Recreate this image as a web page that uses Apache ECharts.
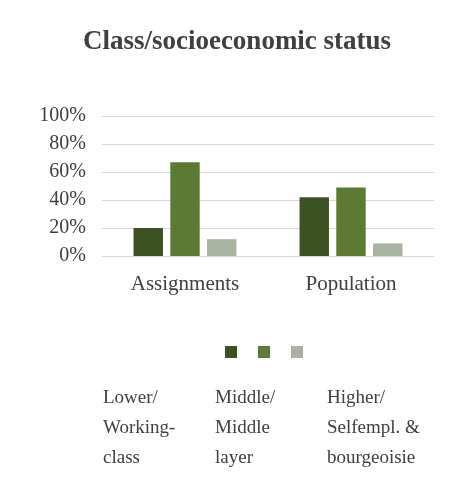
<!DOCTYPE html>
<html><head><meta charset="utf-8">
<script src="https://cdn.jsdelivr.net/npm/echarts@6/dist/echarts.min.js"></script>
<style>body{margin:0;background:#fff}#c{width:474px;height:490px}</style>
</head><body><div id="c"></div>
<script>
// categories and values
const categories = ['Assignments', 'Population']
const seriesNames = ['Lower/\nWorking-\nclass', 'Middle/\nMiddle\nlayer', 'Higher/\nSelfempl. &\nbourgeoisie']
const lowerVals = [20, 42]
const middleVals = [67, 49]
const higherVals = [12, 9]
const colors = ['#3d5223', '#5c7a34', '#a9b3a1']
const font = 'Liberation Serif'

let chart = echarts.init(document.getElementById('c'))
let data = [lowerVals, middleVals, higherVals]
chart.setOption({
  color: colors,
  animation: false,
  title: {
    text: 'Class/socioeconomic status',
    left: 'center', top: 24,
    textStyle: {fontFamily: font, fontSize: 27, fontWeight: 'bold', color: '#404040'}
  },
  grid: {left: 102, right: 40, top: 116, height: 140},
  xAxis: {
    type: 'category', data: categories,
    axisLine: {lineStyle: {color: '#d9d9d9'}},
    axisTick: {show: false},
    axisLabel: {fontFamily: font, fontSize: 21, color: '#404040', margin: 18}
  },
  yAxis: {
    type: 'value', min: 0, max: 100, interval: 20,
    axisLabel: {formatter: '{value}%', fontFamily: font, fontSize: 20, color: '#404040', margin: 16},
    splitLine: {lineStyle: {color: '#d9d9d9'}}
  },
  legend: {
    top: 341, left: 220, itemWidth: 12, itemHeight: 12, itemGap: 21,
    icon: 'rect', formatter: () => '',
    data: seriesNames
  },
  graphic: seriesNames.map((n, i) => ({
    type: 'text', left: [103, 215, 327][i], top: 383,
    style: {text: n, fontFamily: font, fontSize: 19, lineHeight: 30, fill: '#404040'}
  })),
  series: seriesNames.map((n, i) => ({
    type: 'bar', name: n, data: data[i],
    barGap: '25%', barCategoryGap: '38%'
  }))
})
</script></body></html>
